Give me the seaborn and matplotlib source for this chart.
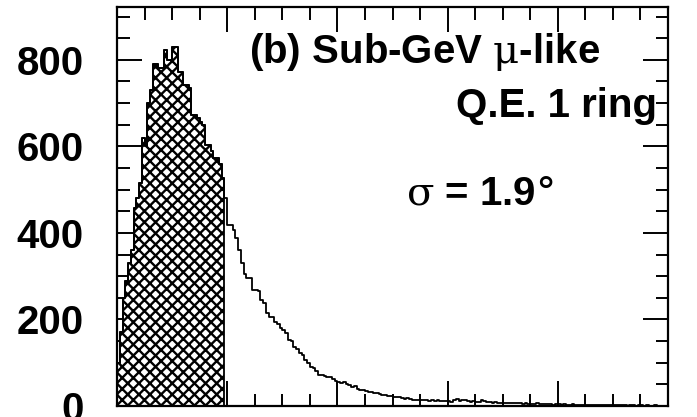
import numpy as np
import pandas as pd
import matplotlib
matplotlib.use("Agg")
import matplotlib.pyplot as plt
from matplotlib.ticker import MultipleLocator, NullFormatter
import seaborn as sns

# angular resolution histogram, 0.05 deg bins from 0 to 10 deg
bin_width = 0.05
n_bins = 200
counts = [
    100, 170, 250, 290, 330, 360, 458, 480, 515, 620,
    600, 700, 730, 790, 790, 781, 781, 823, 800, 800,
    830, 830, 772, 772, 742, 742, 735, 673, 673, 665,
    657, 650, 603, 603, 590, 573, 573, 560, 527, 481,
    418, 418, 407, 388, 360, 330, 305, 296, 296, 268,
    268, 265, 245, 238, 215, 206, 206, 194, 190, 180,
    176, 168, 153, 150, 137, 132, 122, 118, 106, 100,
    90, 88, 80, 72, 72, 70, 67, 67, 62, 58,
    56, 53, 55, 50, 48, 44, 46, 40, 37, 38,
    34, 32, 32, 30, 29, 28, 26, 25, 24, 22,
    21, 20, 21, 18, 17, 18, 16, 15, 14, 15,
    14, 13, 14, 12, 13, 12, 14, 12, 11, 12,
    12, 10, 14, 16, 12, 14, 15, 12, 10, 11,
    9, 10, 13, 11, 9, 10, 8, 9, 7, 8,
    8, 7, 8, 6, 7, 6, 7, 5, 6, 5,
    5, 4, 6, 4, 5, 4, 4, 5, 3, 4,
    4, 3, 4, 3, 3, 4, 3, 3, 2, 3,
    3, 2, 3, 2, 3, 2, 2, 3, 2, 2,
    2, 2, 3, 2, 2, 1, 2, 2, 1, 2,
    2, 1, 2, 1, 1, 2, 1, 1, 1, 1,
]
sigma_cut = 1.95  # 68% containment, hatched part

edges = [round(i * bin_width, 4) for i in range(n_bins + 1)]
centers = [e + bin_width / 2 for e in edges[:-1]]
df = pd.DataFrame({"angle": centers, "count": counts})

sns.set_style("ticks")
plt.rcParams["font.family"] = ["Liberation Sans", "DejaVu Sans"]
# greek letters in a light serif face, like the original symbol font
plt.rcParams["mathtext.fontset"] = "custom"
plt.rcParams["mathtext.rm"] = "DejaVu Serif"
plt.rcParams["mathtext.default"] = "rm"
plt.rcParams["hatch.linewidth"] = 1.7
plt.rcParams["hatch.color"] = "black"
plt.rcParams["text.color"] = "black"

fig = plt.figure(figsize=(6.97, 4.17), dpi=100)
ax = fig.add_axes([117 / 697, 1 - 406 / 417, 551 / 697, 399 / 417])

# hatched region inside sigma
inner = df[df["angle"] < sigma_cut]
n_in = len(inner)
sns.histplot(data=inner, x="angle", weights="count", bins=edges[:n_in + 1],
             element="step", fill=True, facecolor="white", edgecolor="black",
             hatch="xxx", linewidth=1.3, ax=ax)

# full distribution outline
sns.histplot(data=df, x="angle", weights="count", bins=edges,
             element="step", fill=False, color="black", linewidth=1.3, ax=ax)

ax.set_xlim(0, 10)
ax.set_ylim(0, 922)
ax.set_xlabel("")
ax.set_ylabel("")

ax.xaxis.set_major_locator(MultipleLocator(2))
ax.xaxis.set_minor_locator(MultipleLocator(0.5))
ax.yaxis.set_major_locator(MultipleLocator(200))
ax.yaxis.set_minor_locator(MultipleLocator(50))
ax.xaxis.set_major_formatter(NullFormatter())

ax.tick_params(which="both", direction="in", top=True, right=True,
               width=1.4, color="black", labelcolor="black")
ax.tick_params(which="major", length=18)
ax.tick_params(which="minor", length=9)
ax.tick_params(axis="y", which="major", pad=24, labelsize=29)
for lab in ax.get_yticklabels():
    lab.set_fontweight("bold")

for sp in ax.spines.values():
    sp.set_visible(True)
    sp.set_linewidth(1.6)
    sp.set_color("black")

txt = dict(transform=ax.transAxes, fontsize=29, fontweight="bold", color="black")
ax.text(0.559, 0.860, r"(b) Sub-GeV $\mu$-like", ha="center", va="baseline", **txt)
ax.text(0.797, 0.724, "Q.E. 1 ring", ha="center", va="baseline", **txt)
ax.text(0.659, 0.504, r"$\sigma$ = 1.9$\degree$", ha="center", va="baseline", **txt)

fig.savefig("out.png", dpi=100)
